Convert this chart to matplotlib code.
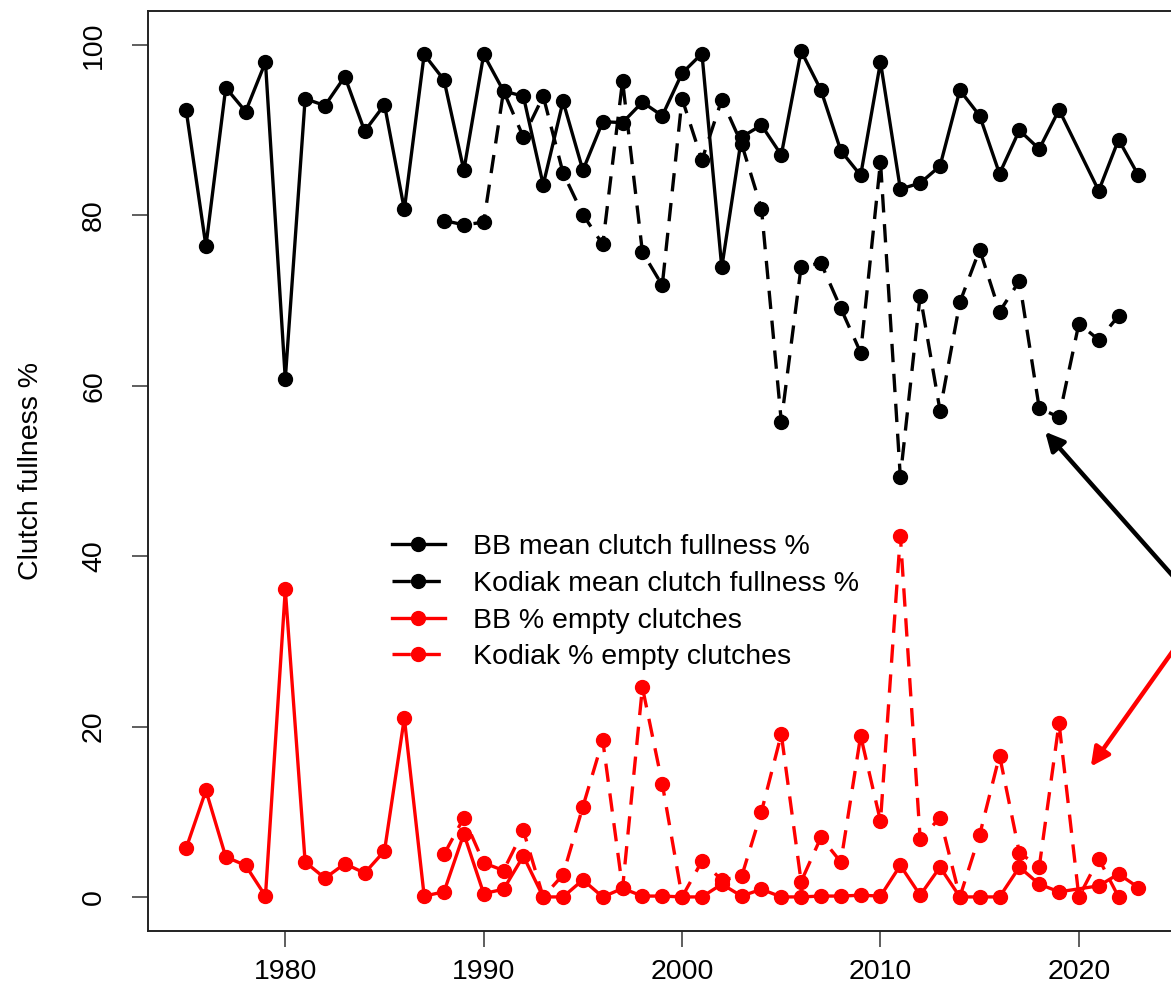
import numpy as np
import matplotlib
matplotlib.use("Agg")
import matplotlib.pyplot as plt

plt.rcParams['font.family'] = ['Liberation Sans', 'DejaVu Sans']

# Bristol Bay: no survey in 2020
bb_years = [1975, 1976, 1977, 1978, 1979, 1980, 1981, 1982, 1983, 1984,
            1985, 1986, 1987, 1988, 1989, 1990, 1991, 1992, 1993, 1994,
            1995, 1996, 1997, 1998, 1999, 2000, 2001, 2002, 2003, 2004,
            2005, 2006, 2007, 2008, 2009, 2010, 2011, 2012, 2013, 2014,
            2015, 2016, 2017, 2018, 2019, 2021, 2022, 2023]
bb_fullness = [92.4, 76.4, 95.0, 92.2, 98.0, 60.8, 93.7, 92.9, 96.3, 89.9,
               93.0, 80.7, 98.9, 95.9, 85.3, 98.9, 94.6, 94.0, 83.6, 93.4,
               85.3, 91.0, 90.9, 93.3, 91.7, 96.7, 99.0, 73.9, 89.2, 90.6,
               87.1, 99.3, 94.7, 87.6, 84.7, 98.0, 83.1, 83.8, 85.8, 94.7,
               91.7, 84.9, 90.0, 87.8, 92.4, 82.9, 88.9, 84.7]
bb_empty = [5.7, 12.5, 4.7, 3.7, 0.1, 36.1, 4.1, 2.2, 3.9, 2.8,
            5.4, 21.0, 0.1, 0.6, 7.4, 0.4, 0.9, 4.8, 0.0, 0.0,
            2.0, 0.0, 1.0, 0.1, 0.1, 0.0, 0.0, 1.5, 0.1, 0.9,
            0.0, 0.0, 0.1, 0.1, 0.2, 0.1, 3.7, 0.2, 3.5, 0.0,
            0.0, 0.0, 3.5, 1.5, 0.6, 1.3, 2.7, 1.1]

kod_years = list(range(1988, 2023))
kod_fullness = [79.4, 78.9, 79.2, 94.6, 89.2, 94.0, 85.0, 80.1, 76.6, 95.8,
                75.7, 71.8, 93.7, 86.5, 93.6, 88.4, 80.8, 55.8, 74.0, 74.4,
                69.1, 63.9, 86.3, 49.3, 70.6, 57.1, 69.8, 76.0, 68.7, 72.3,
                57.4, 56.3, 67.3, 65.4, 68.2]
kod_empty = [5.0, 9.3, 4.0, 3.1, 7.8, 0.0, 2.6, 10.6, 18.4, 1.0,
             24.6, 13.3, 0.0, 4.2, 2.0, 2.4, 10.0, 19.1, 1.8, 7.0,
             4.1, 18.9, 8.9, 42.4, 6.8, 9.3, 0.0, 7.3, 16.6, 5.2,
             3.5, 20.4, 0.0, 4.5, 0.0]

W, H = 1171, 999
fig = plt.figure(figsize=(W / 100, H / 100), dpi=100)
ax = fig.add_axes([148 / W, (H - 931) / H, (1176.5 - 148) / W, (931 - 11) / H])

lw = 2.4
ms = 10
dash = (5.5, 3.5)

ax.plot(bb_years, bb_fullness, color='black', lw=lw, marker='o', ms=ms,
        label='BB mean clutch fullness %')
ax.plot(kod_years, kod_fullness, color='black', lw=lw, marker='o', ms=ms,
        dashes=dash, label='Kodiak mean clutch fullness %')
ax.plot(bb_years, bb_empty, color='red', lw=lw, marker='o', ms=ms,
        label='BB % empty clutches')
ax.plot(kod_years, kod_empty, color='red', lw=lw, marker='o', ms=ms,
        dashes=dash, label='Kodiak % empty clutches')

ax.set_xlim(1973.08, 2024.92)
ax.set_ylim(-4, 104)
ax.set_xticks([1980, 1990, 2000, 2010, 2020])
ax.set_yticks([0, 20, 40, 60, 80, 100])
ax.tick_params(axis='both', length=11.5, width=1.1, labelsize=20.5, color='#333333')
ax.tick_params(axis='x', pad=9)
ax.tick_params(axis='y', pad=18)
for lab in ax.get_yticklabels():
    lab.set_rotation(90)
    lab.set_va('center')
for sp in ax.spines.values():
    sp.set_linewidth(1.4)
    sp.set_color('#222222')

ax.set_ylabel('Clutch fullness %', fontsize=20.5, labelpad=27)

ax.legend(loc='upper left', bbox_to_anchor=(392 / W, 1 - 534 / H),
          bbox_transform=fig.transFigure, frameon=False, fontsize=20.5,
          handlelength=1.85, handletextpad=1.0, labelspacing=0.38,
          borderpad=0, borderaxespad=0)

# pointer arrows coming in from the right-hand margin
ax.annotate('', xy=(2018.3, 54.6), xytext=(2025.6, 35.4),
            arrowprops=dict(arrowstyle='-|>', color='black', lw=3.2,
                            mutation_scale=28, shrinkA=0, shrinkB=0),
            annotation_clip=False)
ax.annotate('', xy=(2020.6, 15.3), xytext=(2025.6, 31.7),
            arrowprops=dict(arrowstyle='-|>', color='red', lw=3.2,
                            mutation_scale=28, shrinkA=0, shrinkB=0),
            annotation_clip=False)

fig.savefig('out.png', dpi=100)
